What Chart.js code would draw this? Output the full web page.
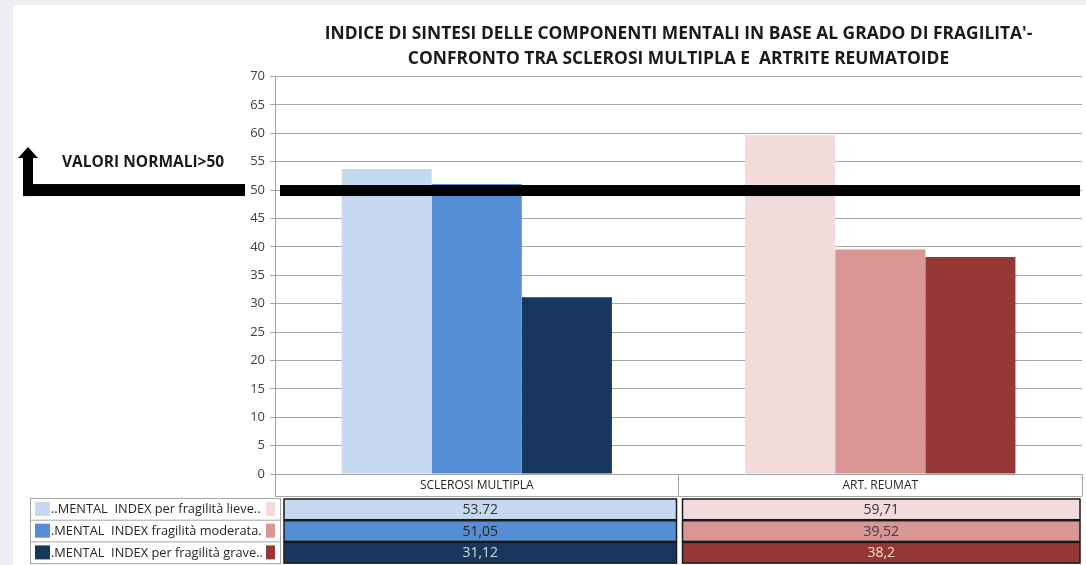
<!DOCTYPE html>
<html>
<head>
<meta charset="utf-8">
<script src="https://cdn.jsdelivr.net/npm/chart.js@4"></script>
<style>
  html, body { margin: 0; padding: 0; background: #efeef3; }
  #wrap { width: 1086px; height: 565px; }
</style>
</head>
<body>
<div id="wrap"><canvas id="fragilita" width="1086" height="565"></canvas></div>
<script>
const categories = ['SCLEROSI MULTIPLA', 'ART. REUMAT'];
const seriesNames = [
    '..MENTAL  INDEX per fragilità lieve..',
    '.MENTAL  INDEX fragilità moderata.',
    '.MENTAL  INDEX per fragilità grave..'
];
const lieve = [53.72, 59.71];
const moderata = [51.05, 39.52];
const grave = [31.12, 38.2];
// values as written in the data table
const lieveText = ['53.72', '59,71'];
const moderataText = ['51,05', '39,52'];
const graveText = ['31,12', '38,2'];
const yMin = 0, yMax = 70, yStep = 5;
const normalValue = 50;
const normalLabel = 'VALORI NORMALI>50';

const titleLines = [
    "INDICE DI SINTESI DELLE COMPONENTI MENTALI IN BASE AL GRADO DI FRAGILITA'-",
    'CONFRONTO TRA SCLEROSI MULTIPLA E  ARTRITE REUMATOIDE'
];

const FONT = '"Open Sans", sans-serif';
const colors = [
    ['#c6d9f0', '#f2dcdb'],
    ['#558ed5', '#d99694'],
    ['#17375e', '#953735']
];
const textColors = [
    ['#333333', '#333333'],
    ['#262626', '#404040'],
    ['#d9d9d9', '#f2dcdb']
];
const cellTexts = [lieveText, moderataText, graveText];

const panelBg = {
    id: 'panelBg',
    beforeDraw(chart) {
        const ctx = chart.ctx;
        ctx.save();
        ctx.fillStyle = '#efeef3';
        ctx.fillRect(0, 0, chart.width, chart.height);
        ctx.fillStyle = '#ffffff';
        ctx.fillRect(13, 5, chart.width - 13, chart.height - 5);
        ctx.restore();
    }
};

const normalLine = {
    id: 'normalLine',
    afterDatasetsDraw(chart) {
        const ctx = chart.ctx;
        const y = chart.scales.y.getPixelForValue(normalValue);
        const area = chart.chartArea;
        ctx.save();
        ctx.fillStyle = '#000000';
        // line across the plot
        ctx.fillRect(area.left + 5, y - 5, area.right - area.left - 7, 11);
        // arrow on the left
        ctx.fillRect(23, y - 6, 222, 12);
        ctx.fillRect(23, y - 34, 10, 40);
        ctx.beginPath();
        ctx.moveTo(28, y - 43);
        ctx.lineTo(18, y - 32);
        ctx.lineTo(38, y - 32);
        ctx.closePath();
        ctx.fill();
        ctx.font = 'bold 15.5px ' + FONT;
        ctx.textBaseline = 'middle';
        ctx.fillStyle = '#1a1a1a';
        ctx.fillText(normalLabel, 62, y - 27);
        ctx.restore();
    }
};

const dataTable = {
    id: 'dataTable',
    afterDraw(chart) {
        const ctx = chart.ctx;
        const x = chart.scales.x;
        const area = chart.chartArea;
        const half = (x.getPixelForValue(1) - x.getPixelForValue(0)) / 2;
        const rowTop = 498, rowH = 21.7;
        ctx.save();
        // bottom of category row
        ctx.strokeStyle = '#a6a6a6';
        ctx.lineWidth = 1;
        ctx.beginPath();
        ctx.moveTo(area.left, 496.5);
        ctx.lineTo(area.right, 496.5);
        ctx.stroke();
        // legend column box
        ctx.strokeRect(30.5, rowTop + 0.5, 250, rowH * 3);
        for (let r = 0; r < 3; r++) {
            const y0 = rowTop + r * rowH;
            if (r > 0) {
                ctx.strokeStyle = '#a6a6a6';
                ctx.beginPath();
                ctx.moveTo(30, y0 + 0.5);
                ctx.lineTo(280, y0 + 0.5);
                ctx.stroke();
            }
            ctx.fillStyle = colors[r][0];
            ctx.fillRect(35, y0 + 4, 15, 14);
            ctx.fillStyle = colors[r][1];
            ctx.fillRect(266, y0 + 4, 9, 14);
            ctx.fillStyle = '#262626';
            ctx.font = '12.8px ' + FONT;
            ctx.textBaseline = 'middle';
            ctx.textAlign = 'left';
            ctx.fillText(seriesNames[r], 51, y0 + rowH / 2 + 1);
            for (let c = 0; c < categories.length; c++) {
                const cx = x.getPixelForValue(c);
                const left = cx - half + (c === 0 ? 9 : 4);
                const right = Math.min(cx + half, area.right) - 2;
                ctx.fillStyle = colors[r][c];
                ctx.fillRect(left, y0 + 1, right - left, rowH - 1);
                ctx.strokeStyle = '#1a1a1a';
                ctx.lineWidth = 1.5;
                ctx.strokeRect(left, y0 + 1, right - left, rowH - 1);
                ctx.lineWidth = 1;
                ctx.fillStyle = textColors[r][c];
                ctx.font = '14px ' + FONT;
                ctx.textAlign = 'center';
                ctx.fillText(cellTexts[r][c], (left + right) / 2, y0 + rowH / 2 + 1);
            }
        }
        ctx.restore();
    }
};

const chart = new Chart(document.getElementById('fragilita'), {
    type: 'bar',
    data: {
        labels: categories,
        datasets: [
            { label: seriesNames[0], data: lieve, backgroundColor: [colors[0][0], colors[0][1]] },
            { label: seriesNames[1], data: moderata, backgroundColor: [colors[1][0], colors[1][1]] },
            { label: seriesNames[2], data: grave, backgroundColor: [colors[2][0], colors[2][1]] }
        ]
    },
    options: {
        responsive: false,
        animation: false,
        datasets: {
            bar: {
                categoryPercentage: 0.67,
                barPercentage: 1.0,
                borderWidth: 0
            }
        },
        layout: {
            padding: { left: 225, right: 4, top: 0, bottom: 69 }
        },
        plugins: {
            legend: { display: false },
            tooltip: { enabled: false },
            title: {
                display: true,
                fullSize: false,
                text: titleLines,
                color: '#1a1a1a',
                font: { family: FONT, size: 17.4, weight: 'bold', lineHeight: 1.45 },
                padding: { top: 21, bottom: 5 }
            }
        },
        scales: {
            x: {
                afterFit: (s) => { s.height = 22; },
                border: { color: '#a6a6a6' },
                grid: {
                    offset: true,
                    drawOnChartArea: false,
                    tickLength: 22,
                    color: '#a6a6a6'
                },
                ticks: {
                    padding: -18,
                    color: '#262626',
                    font: { family: FONT, size: 12 }
                }
            },
            y: {
                min: yMin,
                max: yMax,
                afterFit: (s) => { s.width = 50; },
                border: { color: '#a6a6a6' },
                grid: {
                    color: '#a6a6a6',
                    tickLength: 5
                },
                ticks: {
                    stepSize: yStep,
                    padding: 5,
                    color: '#404040',
                    font: { family: FONT, size: 13 }
                }
            }
        }
    },
    plugins: [panelBg, normalLine, dataTable]
});
</script>
</body>
</html>
